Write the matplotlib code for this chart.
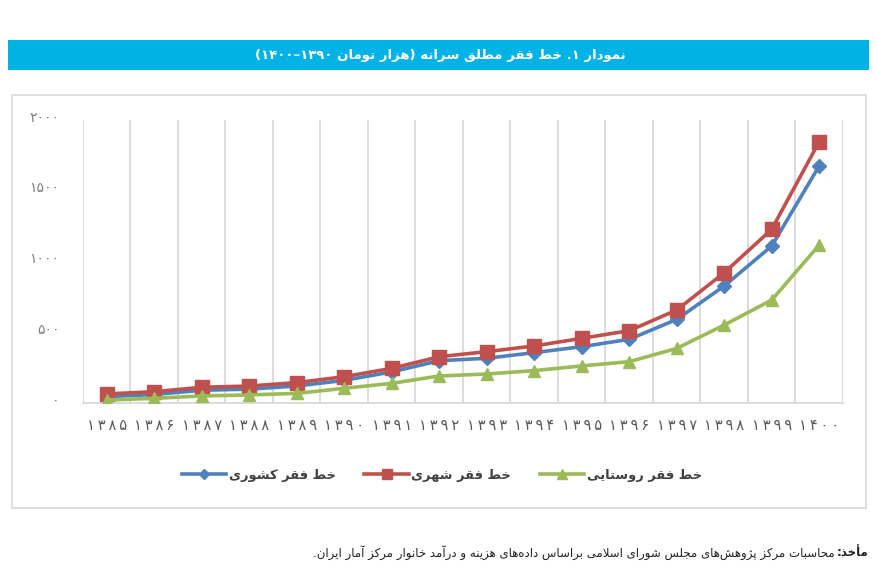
import re
import matplotlib
matplotlib.use("Agg")
import matplotlib.pyplot as plt
from matplotlib.patches import Rectangle
from matplotlib.transforms import ScaledTranslation

# ---- data ----
years = ["۱۳۸۵", "۱۳۸۶", "۱۳۸۷", "۱۳۸۸", "۱۳۸۹", "۱۳۹۰", "۱۳۹۱", "۱۳۹۲",
         "۱۳۹۳", "۱۳۹۴", "۱۳۹۵", "۱۳۹۶", "۱۳۹۷", "۱۳۹۸", "۱۳۹۹", "۱۴۰۰"]
koshvari = [45, 60, 90, 98, 120, 160, 220, 299, 316, 356, 398, 450, 591, 827, 1110, 1676]
shahri = [64, 80, 111, 120, 144, 186, 245, 327, 363, 403, 457, 511, 657, 921, 1228, 1847]
roostaei = [21, 33, 50, 57, 68, 104, 139, 191, 205, 229, 262, 292, 386, 551, 728, 1117]
yticks = [0, 500, 1000, 1500, 2000]
ytick_labels = ["۰", "۵۰۰", "۱۰۰۰", "۱۵۰۰", "۲۰۰۰"]

title = "نمودار ۱. خط فقر مطلق سرانه (هزار تومان ۱۳۹۰–۱۴۰۰)"
labels = ["خط فقر کشوری", "خط فقر شهری", "خط فقر روستایی"]
source_bold = "مأخذ:"
source_text = ("محاسبات مرکز پژوهش\u200cهای مجلس شورای اسلامی براساس داده\u200cهای "
               "هزینه و درآمد خانوار مرکز آمار ایران.")

# ---- minimal Persian shaping (matplotlib has no complex text layout) ----
# letter: (isolated, final, initial, medial); 2-tuple = joins only to the right
FORMS = {
    'ا': (0xFE8D, 0xFE8E), 'آ': (0xFE81, 0xFE82), 'أ': (0xFE83, 0xFE84),
    'إ': (0xFE87, 0xFE88), 'د': (0xFEA9, 0xFEAA), 'ذ': (0xFEAB, 0xFEAC),
    'ر': (0xFEAD, 0xFEAE), 'ز': (0xFEAF, 0xFEB0), 'ژ': (0xFB8A, 0xFB8B),
    'و': (0xFEED, 0xFEEE), 'ة': (0xFE93, 0xFE94), 'ؤ': (0xFE85, 0xFE86),
    'ب': (0xFE8F, 0xFE90, 0xFE91, 0xFE92), 'پ': (0xFB56, 0xFB57, 0xFB58, 0xFB59),
    'ت': (0xFE95, 0xFE96, 0xFE97, 0xFE98), 'ث': (0xFE99, 0xFE9A, 0xFE9B, 0xFE9C),
    'ج': (0xFE9D, 0xFE9E, 0xFE9F, 0xFEA0), 'چ': (0xFB7A, 0xFB7B, 0xFB7C, 0xFB7D),
    'ح': (0xFEA1, 0xFEA2, 0xFEA3, 0xFEA4), 'خ': (0xFEA5, 0xFEA6, 0xFEA7, 0xFEA8),
    'س': (0xFEB1, 0xFEB2, 0xFEB3, 0xFEB4), 'ش': (0xFEB5, 0xFEB6, 0xFEB7, 0xFEB8),
    'ص': (0xFEB9, 0xFEBA, 0xFEBB, 0xFEBC), 'ض': (0xFEBD, 0xFEBE, 0xFEBF, 0xFEC0),
    'ط': (0xFEC1, 0xFEC2, 0xFEC3, 0xFEC4), 'ظ': (0xFEC5, 0xFEC6, 0xFEC7, 0xFEC8),
    'ع': (0xFEC9, 0xFECA, 0xFECB, 0xFECC), 'غ': (0xFECD, 0xFECE, 0xFECF, 0xFED0),
    'ف': (0xFED1, 0xFED2, 0xFED3, 0xFED4), 'ق': (0xFED5, 0xFED6, 0xFED7, 0xFED8),
    'ک': (0xFB8E, 0xFB8F, 0xFB90, 0xFB91), 'گ': (0xFB92, 0xFB93, 0xFB94, 0xFB95),
    'ل': (0xFEDD, 0xFEDE, 0xFEDF, 0xFEE0), 'م': (0xFEE1, 0xFEE2, 0xFEE3, 0xFEE4),
    'ن': (0xFEE5, 0xFEE6, 0xFEE7, 0xFEE8), 'ه': (0xFEE9, 0xFEEA, 0xFEEB, 0xFEEC),
    'ی': (0xFBFC, 0xFBFD, 0xFBFE, 0xFBFF), 'ي': (0xFEF1, 0xFEF2, 0xFEF3, 0xFEF4),
    'ئ': (0xFE89, 0xFE8A, 0xFE8B, 0xFE8C),
}
LAM_ALEF = {'ا': (0xFEFB, 0xFEFC), 'آ': (0xFEF5, 0xFEF6),
            'أ': (0xFEF7, 0xFEF8), 'إ': (0xFEF9, 0xFEFA)}
DIGITS = "0123456789۰۱۲۳۴۵۶۷۸۹"


def dual(c):
    return c in FORMS and len(FORMS[c]) == 4


def shape(s):
    out = []
    n = len(s)
    i = 0
    while i < n:
        c = s[i]
        if c not in FORMS:
            if c != '\u200c':
                out.append(c)
            i += 1
            continue
        prev_joins = i > 0 and dual(s[i - 1])
        if c == 'ل' and i + 1 < n and s[i + 1] in LAM_ALEF:
            out.append(chr(LAM_ALEF[s[i + 1]][1 if prev_joins else 0]))
            i += 2
            continue
        next_joins = dual(c) and i + 1 < n and s[i + 1] in FORMS
        f = FORMS[c]
        if prev_joins and next_joins:
            g = f[3]
        elif prev_joins:
            g = f[1]
        elif next_joins:
            g = f[2]
        else:
            g = f[0]
        out.append(chr(g))
        i += 1
    return ''.join(out)


def fa(s):
    shaped = shape(s)
    tokens = re.findall('[%s]+|[^%s]+' % (DIGITS, DIGITS), shaped)
    mirror = str.maketrans("()", ")(")
    res = []
    for t in reversed(tokens):
        if t[0] in DIGITS:
            res.append(t)
        else:
            res.append(t[::-1].translate(mirror))
    return ''.join(res)


plt.rcParams['font.family'] = ['DejaVu Sans']

W, H = 879, 584
fig = plt.figure(figsize=(W / 100, H / 100), dpi=100)
fig.patch.set_facecolor('white')

# title bar
fig.patches.append(Rectangle((8 / W, 1 - 70 / H), 861 / W, 30 / H,
                             transform=fig.transFigure, facecolor='#00b2e6',
                             edgecolor='none', zorder=-2))
fig.text(440 / W, 1 - 55 / H, fa(title), color='white', fontsize=9.5,
         fontweight='bold', ha='center', va='center')

# chart frame
fig.patches.append(Rectangle((12 / W, 1 - 508 / H), 854 / W, 413 / H,
                             transform=fig.transFigure, facecolor='none',
                             edgecolor='#d9d9d9', linewidth=1.2, zorder=-2))

ax = fig.add_axes([83 / W, 1 - 403 / H, 760 / W, 283 / H])
ax.set_facecolor('none')
x = range(len(years))

ax.plot(x, koshvari, color='#4f81bd', lw=2.6, marker='D', markersize=7,
        label=fa(labels[0]), zorder=3)
ax.plot(x, shahri, color='#c0504d', lw=2.6, marker='s', markersize=10,
        label=fa(labels[1]), zorder=4)
ax.plot(x, roostaei, color='#9bbb59', lw=2.6, marker='^', markersize=9,
        label=fa(labels[2]), zorder=5)

ax.set_xlim(-0.5, len(years) - 0.5)
ax.set_ylim(0, 2000)
ax.set_xticks(list(x))
# the reference sets the year labels with wide letter spacing
ax.set_xticklabels(['\u2009'.join(y) for y in years])
ax.set_xticks([k - 0.5 for k in range(len(years) + 1)], minor=True)
ax.grid(True, which='minor', axis='x', color='#d9d9d9', lw=1.3)
ax.set_axisbelow(True)
ax.set_yticks(yticks)
ax.set_yticklabels(ytick_labels)
ax.tick_params(axis='both', which='both', length=0)
ax.tick_params(axis='x', pad=11, labelsize=10.5, labelcolor='#595959')
ax.tick_params(axis='y', pad=17, labelsize=10, labelcolor='#7f7f7f')
shift = ScaledTranslation(0, 4 / 100, fig.dpi_scale_trans)
for lab in ax.get_yticklabels():
    lab.set_transform(lab.get_transform() + shift)
for side in ['left', 'right', 'top']:
    ax.spines[side].set_visible(False)
ax.spines['bottom'].set_color('#d9d9d9')
ax.spines['bottom'].set_linewidth(1.3)

fig.legend(loc='center', bbox_to_anchor=(442 / W, 1 - 475 / H), ncol=3,
           frameon=False, handlelength=3.4, handletextpad=0.2,
           columnspacing=2.2, markerscale=0.75,
           prop={'size': 9.4, 'weight': 'bold'}, labelcolor='#404040')

# source line: bold label at right, rest to its left
fig.canvas.draw()
r = fig.canvas.get_renderer()
tb = fig.text(868 / W, 1 - 553 / H, fa(source_bold), fontsize=8.5,
              fontweight='bold', color='#231f20', ha='right', va='center')
bb = tb.get_window_extent(renderer=r)
fig.text(bb.x0 / W - 2 / W, 1 - 553 / H, fa(source_text), fontsize=8.5,
         color='#231f20', ha='right', va='center')

fig.savefig('out.png', dpi=100)
